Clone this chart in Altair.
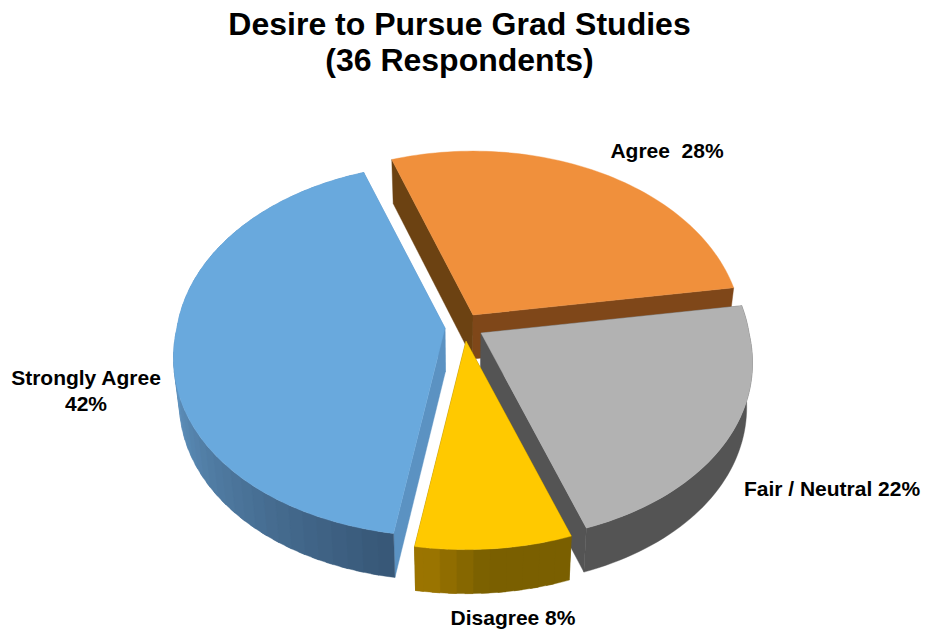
import altair as alt
import math

# Survey results
categories = ["Strongly Agree", "Agree", "Fair / Neutral", "Disagree"]
percents = [42, 28, 22, 8]
title_lines = ["Desire to Pursue Grad Studies", "(36 Respondents)"]
slice_labels = ["Strongly Agree\n42%", "Agree\u00a0 28%", "Fair / Neutral 22%", "Disagree 8%"]

# Styling for each slice: top face, the two cut faces, rim shading from light to dark
STYLE = {
    "Strongly Agree": dict(top="#69a9dd", start="#5b92c2", end="#5b92c2", rim=((103, 158, 204), (56, 88, 120))),
    "Agree": dict(top="#f0903c", start="#6c4212", end="#7f4719", rim=None),
    "Fair / Neutral": dict(top="#b2b2b2", start="#545454", end="#545454", rim=((84, 84, 84), (84, 84, 84))),
    "Disagree": dict(top="#ffc900", start="#7a5f00", end="#7a5f00", rim=((155, 116, 0), (122, 95, 0))),
}
# Apex of each exploded slice on the page
APEX = {
    "Strongly Agree": (445, 328),
    "Agree": (473, 315),
    "Fair / Neutral": (481, 333),
    "Disagree": (466, 341),
}
FIRST_SLICE_START = -170.7   # degrees clockwise from the far side of the disc
RADIUS = 268
TILT = 0.685
PERSPECTIVE = 0.12
WIDEN_BACK = 0.107
WIDEN_FRONT = 0.16
DEPTH = 44
VANISH_X = 463
FOOT_SCALE = 0.98
TOP_MARGIN = 84
BAND_STEPS = 2
DRAW_ORDER = ["Agree", "Fair / Neutral", "Strongly Agree", "Disagree"]


def project(name, deg):
    """Page position of the rim of a slice at a given angle."""
    u, v = math.sin(math.radians(deg)), -math.cos(math.radians(deg))
    wy = 1 / (1 - PERSPECTIVE * v)
    wx = 1 / (1 - (WIDEN_FRONT if v > 0 else WIDEN_BACK) * v)
    ax, ay = APEX[name]
    return ax + RADIUS * u * wx, ay + RADIUS * TILT * v * wy


def foot(pt):
    """Same point on the underside of the disc."""
    return VANISH_X + (pt[0] - VANISH_X) * FOOT_SCALE, pt[1] + DEPTH


def feature(points, color):
    ring = [[round(x, 2), round(y, 2)] for x, y in points]
    ring.append(ring[0])
    return {
        "type": "Feature",
        "geometry": {"type": "Polygon", "coordinates": [ring]},
        "properties": {"color": color},
    }


def mix(a, b, t):
    t = max(0.0, min(1.0, t))
    return "#%02x%02x%02x" % tuple(round(a[i] + (b[i] - a[i]) * t) for i in range(3))


def wall(points, color):
    return feature(points + [foot(p) for p in reversed(points)], color)


# Angular span of every slice, going clockwise
spans = {}
angle = FIRST_SLICE_START
for name, pct in zip(categories, percents):
    spans[name] = (angle, angle + pct * 3.6)
    angle += pct * 3.6

features = []
for name in DRAW_ORDER:
    a0, a1 = spans[name]
    style = STYLE[name]
    apex = APEX[name]
    n = max(8, round((a1 - a0) / 1.5))
    angles = [a0 + (a1 - a0) * i / n for i in range(n + 1)]
    rim = [project(name, a) for a in angles]

    # Cut faces running from the apex to the rim
    features.append(wall([apex, rim[0]], style["start"]))
    features.append(wall([apex, rim[-1]], style["end"]))

    # Rim wall (the far slice never shows one); shaded bands overlap by one step so no seams show
    if style["rim"]:
        light, dark = style["rim"]
        if light == dark:
            features.append(wall(rim, mix(light, dark, 0)))
        elif name == "Strongly Agree":
            for i in range(0, n, BAND_STEPS):
                shade = (270 - angles[i] % 360) / 80.0
                features.append(wall(rim[i:i + BAND_STEPS + 2], mix(light, dark, shade)))
        else:
            for i in range(0, n, BAND_STEPS):
                frac = (angles[i] - a0) / (a1 - a0)
                features.append(wall(rim[i:i + BAND_STEPS + 2], mix(light, dark, 1 - (frac - 0.5) / 0.35)))

    # Top face
    features.append(feature([apex] + rim, style["top"]))

shapes = (
    alt.Chart(alt.Data(values=features))
    .mark_geoshape(strokeWidth=0.4)
    .encode(
        fill=alt.Fill("properties.color:N", scale=None),
        stroke=alt.Stroke("properties.color:N", scale=None),
    )
    .project(type="identity", scale=1, translate=[0, -TOP_MARGIN])
)

FONT = "Liberation Sans"


def label(text, x, y):
    return (
        alt.Chart(alt.Data(values=[{"t": text}]))
        .mark_text(font=FONT, fontSize=21, fontWeight="bold", color="#000000",
                   lineBreak="\n", lineHeight=26, align="center", baseline="middle")
        .encode(text="t:N", x=alt.value(x), y=alt.value(y - TOP_MARGIN))
    )


labels = [
    label(slice_labels[0], 86, 379),
    label(slice_labels[1], 667, 152),
    label(slice_labels[2], 832, 490),
    label(slice_labels[3], 513, 619),
]

chart = (
    alt.layer(shapes, *labels)
    .properties(
        width=926,
        height=632 - TOP_MARGIN,
        padding={"left": 0, "right": 0, "top": TOP_MARGIN, "bottom": 0},
        autosize=alt.AutoSizeParams(type="none"),
        title=alt.TitleParams(
            text=title_lines,
            font=FONT,
            fontSize=32,
            fontWeight="bold",
            color="#000000",
            lineHeight=36,
            anchor="middle",
            dx=-3.5,
            offset=6.5,
        ),
    )
    .configure_view(stroke=None)
)

chart.save("out.html", embed_options={"renderer": "svg", "actions": False})
